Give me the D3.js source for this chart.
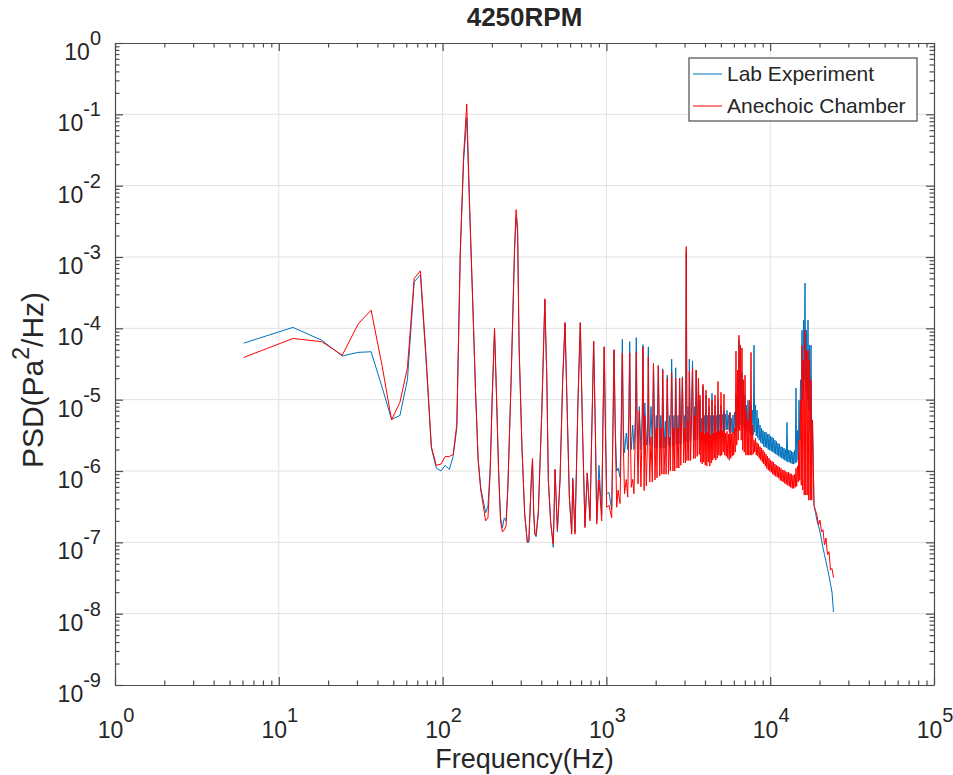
<!DOCTYPE html>
<html>
<head>
<meta charset="utf-8">
<script src="https://cdn.jsdelivr.net/npm/d3@7"></script>
<style>
  body { margin: 0; background: #fff; }
  text { font-family: "Liberation Sans", Arial, Helvetica, sans-serif; fill: #262626; }
</style>
</head>
<body>
<div id="chart"></div>
<script>
// ---- data (frequency in Hz, PSD in Pa^2/Hz) ----
// low bins, 6.1 Hz spacing
const freqLow = [6.1, 12.2, 18.3, 24.4, 30.5, 36.6, 42.7, 48.8, 54.9, 61.0,
  67.1, 73.2, 79.3, 85.4, 91.5, 97.7, 103.8, 109.9, 116.0, 122.1,
  128.2, 134.3, 140.4, 146.5, 152.6, 158.7, 164.8, 170.9, 177.0, 183.1,
  189.2, 195.3, 201.4, 207.5, 213.6, 219.7, 225.8, 231.9, 238.0];
const labLow = [6.2e-5, 1.03e-4, 6.8e-5, 4.1e-5, 4.6e-5, 4.7e-5, 1.5e-5, 5.3e-6, 6.0e-6, 1.9e-5,
  4.5e-4, 5.6e-4, 3.5e-5, 2.1e-6, 1.1e-6, 1.0e-6, 1.2e-6, 1.05e-6, 1.6e-6, 4.0e-6,
  1.1e-3, 2.2e-2, 9.0e-2, 4.0e-3, 2.4e-4, 1.4e-5, 1.5e-6, 5.8e-7, 3.9e-7, 2.6e-7,
  3.2e-7, 1.1e-6, 1.3e-5, 9.5e-5, 1.0e-5, 1.0e-6, 2.2e-7, 1.6e-7, 2.2e-7];
const anecLow = [3.9e-5, 7.2e-5, 6.5e-5, 4.2e-5, 1.15e-4, 1.8e-4, 3.0e-5, 5.2e-6, 9.2e-6, 2.8e-5,
  5.0e-4, 6.4e-4, 4.0e-5, 2.2e-6, 1.2e-6, 1.25e-6, 1.6e-6, 1.6e-6, 1.7e-6, 4.5e-6,
  1.2e-3, 2.6e-2, 1.4e-1, 4.5e-3, 2.6e-4, 1.4e-5, 1.4e-6, 5.4e-7, 3.3e-7, 2.0e-7,
  2.2e-7, 1.0e-6, 1.3e-5, 1.0e-4, 1.1e-5, 1.0e-6, 2.0e-7, 1.4e-7, 1.5e-7];

// harmonic comb, peaks and troughs
const freqMid = [244, 250, 262, 275, 281, 287, 293, 305, 317, 329,
  336, 348, 354, 360, 366, 372, 384, 403, 421, 433,
  442, 457, 474, 486, 502, 521, 541, 559, 577, 594,
  614, 623, 643, 671, 693, 715, 740, 764, 794, 817,
  836, 858, 873, 901, 936, 953, 970, 987, 1004, 1037,
  1077, 1098, 1113, 1134, 1156, 1178, 1211, 1232, 1251, 1270,
  1290, 1323, 1350, 1370, 1388, 1402, 1419, 1448, 1473, 1505,
  1522, 1540, 1560, 1588, 1625, 1655, 1672, 1688, 1700, 1715,
  1753, 1790, 1803, 1818, 1839, 1872, 1906, 1938, 1980, 2017,
  2037, 2075, 2116, 2150, 2180, 2207, 2247, 2290, 2315, 2353,
  2393, 2433, 2460, 2503, 2549, 2585, 2614, 2648, 2698, 2738,
  2770, 2798, 2846, 2879, 2910, 2963, 3006, 3041, 3073, 3104,
  3149, 3185, 3207, 3266, 3312, 3356, 3403, 3451, 3484, 3533,
  3582, 3649, 3690];
const labMid = [2.0e-7, 5.5e-7, 1.9e-5, 1.2e-3, 3.6e-3, 2.2e-3, 5.5e-5, 2.2e-6, 2.5e-7, 1.0e-7,
  1.0e-7, 7.5e-7, 1.4e-6, 2.5e-7, 1.3e-7, 1.2e-7, 2.5e-7, 6.4e-6, 2.5e-4, 1.9e-5,
  7.5e-7, 1.9e-7, 8.5e-8, 1.05e-6, 1.4e-7, 7.5e-7, 1.9e-5, 1.2e-4, 6.4e-6, 4.3e-7,
  1.4e-7, 8.0e-7, 1.4e-7, 1.0e-5, 1.2e-4, 3.7e-6, 1.7e-7, 9.4e-7, 2.2e-7, 5.0e-6,
  6.6e-5, 2.8e-6, 2.0e-7, 1.2e-6, 2.4e-7, 5.0e-6, 5.5e-5, 3.7e-6, 4.8e-7, 5.0e-7,
  2.9e-7, 5.0e-6, 5.0e-5, 3.7e-6, 1.0e-6, 1.1e-6, 8.2e-7, 5.0e-6, 7.0e-5, 3.7e-6,
  1.8e-6, 3.4e-6, 2.0e-6, 6.0e-6, 6.5e-5, 5.0e-6, 2.0e-6, 4.4e-6, 2.0e-6, 6.0e-6,
  7.4e-5, 5.0e-6, 2.0e-6, 8.0e-6, 2.0e-6, 6.0e-6, 5.9e-5, 5.0e-6, 2.2e-6, 9.0e-6,
  2.3e-6, 5.0e-6, 5.5e-5, 5.0e-6, 2.3e-6, 8.0e-6, 2.2e-6, 3.2e-5, 2.1e-6, 6.0e-6,
  2.1e-6, 3.0e-5, 2.1e-6, 6.0e-6, 2.1e-6, 2.7e-5, 2.1e-6, 5.0e-6, 2.2e-6, 2.2e-5,
  2.3e-6, 6.0e-6, 2.2e-6, 3.7e-5, 2.3e-6, 6.0e-6, 2.3e-6, 2.8e-5, 2.4e-6, 6.0e-6,
  2.4e-6, 2.0e-5, 2.4e-6, 7.0e-6, 2.1e-5, 2.5e-6, 6.0e-6, 2.6e-6, 1.2e-3, 2.6e-6,
  8.0e-6, 2.6e-6, 3.7e-5, 2.6e-6, 8.0e-6, 3.5e-5, 2.7e-6, 8.0e-6, 2.7e-6, 2.6e-5,
  2.7e-6, 2.0e-5, 2.8e-6];
const anecMid = [1.7e-7, 5.5e-7, 1.9e-5, 1.4e-3, 4.6e-3, 2.6e-3, 6.0e-5, 2.2e-6, 2.5e-7, 1.0e-7,
  1.05e-7, 7.5e-7, 1.5e-6, 2.6e-7, 1.3e-7, 1.25e-7, 2.7e-7, 6.4e-6, 2.6e-4, 1.9e-5,
  7.5e-7, 1.9e-7, 9.5e-8, 1.05e-6, 1.5e-7, 7.5e-7, 1.9e-5, 1.2e-4, 6.4e-6, 4.3e-7,
  1.3e-7, 7.6e-7, 1.3e-7, 1.0e-5, 1.2e-4, 3.7e-6, 1.6e-7, 9.4e-7, 2.0e-7, 5.0e-6,
  6.6e-5, 2.8e-6, 1.8e-7, 7.5e-7, 2.0e-7, 5.0e-6, 5.5e-5, 3.7e-6, 3.1e-7, 3.3e-7,
  2.2e-7, 5.0e-6, 5.0e-5, 3.0e-6, 3.1e-7, 5.4e-7, 3.5e-7, 3.0e-6, 4.5e-5, 2.2e-6,
  4.8e-7, 7.6e-7, 4.3e-7, 4.0e-6, 4.5e-5, 3.0e-6, 5.9e-7, 7.6e-7, 4.8e-7, 4.0e-6,
  4.7e-5, 3.0e-6, 6.6e-7, 7.0e-6, 6.0e-7, 5.0e-6, 5.5e-5, 4.0e-6, 5.3e-7, 6.0e-6,
  6.2e-7, 4.0e-6, 4.0e-5, 3.5e-6, 7.0e-7, 3.0e-6, 7.0e-7, 3.2e-5, 7.5e-7, 4.0e-6,
  8.0e-7, 3.0e-5, 8.5e-7, 4.0e-6, 9.0e-7, 2.6e-5, 9.0e-7, 3.0e-6, 9.0e-7, 2.0e-5,
  9.0e-7, 3.0e-6, 1.0e-6, 2.4e-5, 1.0e-6, 4.0e-6, 1.0e-6, 2.0e-5, 1.1e-6, 4.0e-6,
  1.1e-6, 2.0e-5, 1.2e-6, 5.0e-6, 2.0e-5, 1.3e-6, 4.0e-6, 1.3e-6, 1.4e-3, 1.4e-6,
  5.0e-6, 1.4e-6, 2.5e-5, 1.4e-6, 6.0e-6, 2.8e-5, 1.5e-6, 6.0e-6, 1.5e-6, 2.6e-5,
  1.6e-6, 2.0e-5, 1.7e-6];

// dense broadband part, alternating upper / lower edge of the band
const freqBand = [3728, 3768, 3807, 3847, 3888, 3929, 3971, 4013, 4057, 4100,
  4143, 4187, 4231, 4276, 4321, 4367, 4413, 4460, 4506, 4554,
  4603, 4652, 4701, 4751, 4800, 4851, 4903, 4955, 5007, 5060,
  5114, 5168, 5222, 5277, 5334, 5391, 5448, 5506, 5563, 5622,
  5682, 5742, 5803, 5865, 5927, 5990, 6053, 6117, 6182, 6248,
  6314, 6381, 6448, 6516, 6586, 6656, 6726, 6797, 6870, 6943,
  7017, 7091, 7166, 7242, 7319, 7397, 7474, 7553, 7634, 7715,
  7797, 7880, 7963, 8047, 8133, 8219, 8306, 8394, 8483, 8573,
  8664, 8756, 8849, 8943, 9037, 9133, 9230, 9328, 9428, 9528,
  9627, 9729, 9833, 9937, 10042, 10148, 10256, 10365, 10474, 10585,
  10698, 10811, 10926, 11042, 11158, 11276, 11397, 11518, 11640, 11763,
  11888, 12014, 12141, 12270, 12401, 12532, 12666, 12800, 12934, 13071,
  13211, 13351, 13490, 13633, 13778, 13924, 14073, 14222, 14371, 14523,
  14678, 14834, 14989, 15148, 15311, 15473, 15636, 15802, 15970, 16139,
  16312, 16485, 16658, 16835, 17014, 17194, 17376, 17560, 17747, 17935,
  18123];
const labBand = [9.8e-6, 2.7e-6, 5.5e-6, 2.7e-6, 1.55e-5, 2.6e-6, 6.0e-6, 2.5e-6, 1.16e-5, 2.7e-6,
  6.0e-6, 2.9e-6, 8.0e-6, 2.7e-6, 6.0e-6, 2.9e-6, 1.23e-5, 3.2e-6, 6.0e-6, 3.2e-6,
  8.4e-6, 3.1e-6, 6.0e-6, 3.3e-6, 9.8e-6, 3.4e-6, 6.2e-6, 3.3e-6, 8.4e-6, 3.5e-6,
  6.2e-6, 3.6e-6, 7.1e-6, 3.7e-6, 6.3e-6, 3.8e-6, 7.1e-6, 3.8e-6, 6.1e-6, 3.6e-6,
  6.7e-6, 3.5e-6, 5.5e-6, 3.3e-6, 6.1e-6, 3.4e-6, 6.7e-6, 3.5e-6, 1.16e-5, 3.6e-6,
  1.9e-5, 4.0e-6, 6.8e-5, 4.4e-6, 3.6e-5, 4.4e-6, 2.4e-5, 4.4e-6, 1.36e-5, 4.0e-6,
  1.16e-5, 4.0e-6, 8.4e-6, 3.7e-6, 9.8e-6, 3.5e-6, 8.4e-6, 3.3e-6, 8.4e-6, 3.3e-6,
  7.1e-6, 3.2e-6, 5.8e-5, 3.5e-6, 8.4e-6, 3.1e-6, 7.1e-6, 2.9e-6, 5.5e-6, 2.7e-6,
  4.4e-6, 2.5e-6, 4.0e-6, 2.4e-6, 3.7e-6, 2.2e-6, 3.5e-6, 2.16e-6, 3.5e-6, 2.1e-6,
  3.3e-6, 2.0e-6, 3.3e-6, 1.96e-6, 3.1e-6, 1.9e-6, 3.0e-6, 1.84e-6, 2.9e-6, 1.78e-6,
  2.7e-6, 1.72e-6, 2.6e-6, 1.67e-6, 2.45e-6, 1.61e-6, 2.4e-6, 1.56e-6, 2.2e-6, 1.51e-6,
  2.16e-6, 1.46e-6, 2.1e-6, 1.42e-6, 2.0e-6, 1.37e-6, 4.8e-6, 1.33e-6, 1.96e-6, 1.33e-6,
  1.96e-6, 1.29e-6, 1.9e-6, 1.25e-6, 1.84e-6, 1.25e-6, 1.96e-6, 1.29e-6, 1.45e-5, 1.33e-6,
  3.7e-6, 1.42e-6, 9.8e-6, 2.7e-6, 1.9e-5, 5.2e-6, 9.4e-5, 9.8e-6, 1.3e-4, 1.9e-5,
  4.3e-4, 1.36e-5, 9.4e-5, 9.8e-6, 1.3e-4, 7.1e-6, 5.8e-5, 3.7e-6, 5.8e-5, 1.96e-6,
  5.2e-6];
const anecBand = [1.16e-5, 1.33e-6, 3.5e-6, 1.25e-6, 1.65e-5, 1.33e-6, 3.3e-6, 1.21e-6, 1.36e-5, 1.17e-6,
  3.5e-6, 1.33e-6, 1.05e-5, 1.17e-6, 3.2e-6, 1.29e-6, 9.8e-6, 1.42e-6, 3.4e-6, 1.51e-6,
  1.16e-5, 1.42e-6, 3.5e-6, 1.51e-6, 1.8e-5, 1.67e-6, 3.6e-6, 1.61e-6, 1.27e-5, 1.67e-6,
  3.6e-6, 1.84e-6, 1.2e-5, 1.67e-6, 3.4e-6, 1.61e-6, 3.6e-6, 1.51e-6, 3.3e-6, 1.42e-6,
  6.5e-6, 1.51e-6, 3.3e-6, 1.61e-6, 3.5e-6, 1.67e-6, 4.0e-6, 1.84e-6, 4.8e-5, 2.3e-6,
  2.6e-5, 2.7e-6, 8.0e-5, 3.7e-6, 5.8e-5, 2.7e-6, 5.3e-5, 1.96e-6, 1.9e-5, 1.84e-6,
  2.2e-5, 1.67e-6, 7.1e-6, 1.67e-6, 5.2e-6, 1.67e-6, 9.8e-6, 1.67e-6, 4.6e-5, 1.67e-6,
  4.4e-6, 1.72e-6, 2.7e-6, 1.84e-6, 2.9e-6, 1.67e-6, 2.5e-6, 1.61e-6, 2.4e-6, 1.51e-6,
  2.2e-6, 1.42e-6, 2.1e-6, 1.33e-6, 1.96e-6, 1.25e-6, 1.84e-6, 1.17e-6, 1.72e-6, 1.09e-6,
  1.61e-6, 1.03e-6, 1.51e-6, 9.9e-7, 1.42e-6, 9.6e-7, 1.37e-6, 9.0e-7, 1.33e-6, 8.7e-7,
  1.25e-6, 8.4e-7, 1.21e-6, 8.2e-7, 1.17e-6, 7.9e-7, 1.13e-6, 7.4e-7, 1.09e-6, 7.2e-7,
  1.03e-6, 7.0e-7, 1.03e-6, 6.7e-7, 9.9e-7, 6.5e-7, 9.6e-7, 6.3e-7, 9.6e-7, 6.1e-7,
  9.3e-7, 5.9e-7, 9.0e-7, 5.7e-7, 8.7e-7, 5.7e-7, 9.0e-7, 5.9e-7, 1.09e-6, 6.1e-7,
  1.17e-6, 7.0e-7, 2.7e-6, 7.4e-7, 9.8e-6, 6.3e-7, 5.8e-5, 5.4e-7, 3.6e-5, 4.6e-7,
  9.4e-5, 4.6e-7, 4.9e-5, 4.6e-7, 4.9e-5, 3.9e-7, 3.6e-5, 3.9e-7, 1.9e-5, 3.9e-7,
  5.2e-6];

// roll-off above the 16 kHz peak
const freqTail = [18510, 18906, 19307, 19720, 20137, 20568, 21004, 21453, 21912, 22377, 22856, 23340, 23839, 24346];
const labTail = [3.3e-7, 2.6e-7, 2.0e-7, 1.7e-7, 1.4e-7, 1.08e-7, 8.4e-8, 6.7e-8, 5.4e-8, 4.3e-8, 3.4e-8, 2.6e-8, 2.0e-8, 1.05e-8];
const anecTail = [3.3e-7, 2.8e-7, 2.4e-7, 1.75e-7, 2.05e-7, 1.4e-7, 1.5e-7, 9.2e-8, 1.15e-7, 6.7e-8, 7.4e-8, 4.1e-8, 4.3e-8, 3.2e-8];

const seriesNames = ["Lab Experiment", "Anechoic Chamber"];
const seriesColors = ["#0072BD", "#FF0000"];
const xTickExp = [0, 1, 2, 3, 4, 5];
const yTickExp = [0, -1, -2, -3, -4, -5, -6, -7, -8, -9];

// ---- layout ----
const WIDTH = 953, HEIGHT = 775;
const MARGIN = { left: 115, top: 43, right: 19, bottom: 90 };
const INNER_WIDTH = WIDTH - MARGIN.left - MARGIN.right;
const INNER_HEIGHT = 642;
const AXIS_COLOR = "#4d4d4d";
const GRID_COLOR = "#e1e1e1";

const svg = d3.select("#chart")
  .append("svg")
  .attr("width", WIDTH)
  .attr("height", HEIGHT);

const g = svg.append("g")
  .attr("transform", `translate(${MARGIN.left}, ${MARGIN.top})`);

const x = d3.scaleLog().domain([1, 1e5]).range([0, INNER_WIDTH]);
const y = d3.scaleLog().domain([1e-9, 1]).range([INNER_HEIGHT, 0]);

const xMajor = xTickExp.map(e => Math.pow(10, e));
const yMajor = yTickExp.map(e => Math.pow(10, e));
const xMinor = [], yMinor = [];
xTickExp.slice(0, -1).forEach(e => { for (let m = 2; m < 10; m++) xMinor.push(m * Math.pow(10, e)); });
yTickExp.slice(0, -1).forEach(e => { for (let m = 2; m < 10; m++) yMinor.push(m * Math.pow(10, e - 1)); });

// Grid
g.append("g").selectAll("line")
  .data(xMajor.slice(1, -1))
  .join("line")
  .attr("x1", d => x(d)).attr("x2", d => x(d))
  .attr("y1", 0).attr("y2", INNER_HEIGHT)
  .attr("stroke", GRID_COLOR).attr("stroke-width", 1);

g.append("g").selectAll("line")
  .data(yMajor.slice(1, -1))
  .join("line")
  .attr("y1", d => y(d)).attr("y2", d => y(d))
  .attr("x1", 0).attr("x2", INNER_WIDTH)
  .attr("stroke", GRID_COLOR).attr("stroke-width", 1);

// Lines
g.append("clipPath").attr("id", "plot-clip")
  .append("rect").attr("width", INNER_WIDTH).attr("height", INNER_HEIGHT);

const freq = freqLow.concat(freqMid, freqBand, freqTail);
const lab = labLow.concat(labMid, labBand, labTail);
const anec = anecLow.concat(anecMid, anecBand, anecTail);
const series = [lab, anec].map(vals => freq.map((f, i) => [f, vals[i]]));

const line = d3.line()
  .x(d => x(d[0]))
  .y(d => y(d[1]));

g.append("g")
  .attr("clip-path", "url(#plot-clip)")
  .selectAll("path")
  .data(series)
  .join("path")
  .attr("d", line)
  .attr("fill", "none")
  .attr("stroke", (d, i) => seriesColors[i])
  .attr("stroke-width", 1)
  .attr("stroke-linejoin", "round");

// Axes (ticks point inward on all four sides)
function styleAxis(sel) {
  sel.selectAll("path, line").attr("stroke", AXIS_COLOR).attr("stroke-width", 1.2);
  sel.selectAll("text").remove();
}
const axes = [
  [d3.axisBottom(x), `translate(0, ${INNER_HEIGHT})`, xMajor, xMinor],
  [d3.axisTop(x), "translate(0, 0)", xMajor, xMinor],
  [d3.axisLeft(y), "translate(0, 0)", yMajor, yMinor],
  [d3.axisRight(y), `translate(${INNER_WIDTH}, 0)`, yMajor, yMinor]
];
axes.forEach(([ax, tr, major, minor]) => {
  g.append("g").attr("transform", tr)
    .call(ax.tickValues(major).tickSizeInner(-8).tickSizeOuter(0).tickFormat(""))
    .call(styleAxis);
  g.append("g").attr("transform", tr)
    .call(ax.tickValues(minor).tickSizeInner(-4.5).tickSizeOuter(0).tickFormat(""))
    .call(sel => { styleAxis(sel); sel.select(".domain").remove(); });
});

// Tick labels, 10^n style
const xLab = g.append("g").selectAll("text")
  .data(xTickExp)
  .join("text")
  .attr("x", d => x(Math.pow(10, d)) + 1)
  .attr("y", INNER_HEIGHT + 53)
  .attr("text-anchor", "middle")
  .style("font-size", "23px");
xLab.append("tspan").text("10");
xLab.append("tspan").attr("dy", -16).style("font-size", "20px").text(d => d);

const yLab = g.append("g").selectAll("text")
  .data(yTickExp)
  .join("text")
  .attr("x", -14)
  .attr("y", d => y(Math.pow(10, d)) + 17)
  .attr("text-anchor", "end")
  .style("font-size", "23px");
yLab.append("tspan").text("10");
yLab.append("tspan").attr("dy", -15).style("font-size", "20px").text(d => d);

// Title and axis labels
svg.append("text")
  .attr("x", MARGIN.left + INNER_WIDTH / 2)
  .attr("y", 26)
  .attr("text-anchor", "middle")
  .style("font-size", "26px")
  .style("font-weight", "bold")
  .text("4250RPM");

svg.append("text")
  .attr("x", MARGIN.left + INNER_WIDTH / 2)
  .attr("y", 768)
  .attr("text-anchor", "middle")
  .style("font-size", "27px")
  .text("Frequency(Hz)");

const yTitle = svg.append("text")
  .attr("transform", "translate(43, 380) rotate(-90)")
  .attr("text-anchor", "middle")
  .style("font-size", "30px");
yTitle.append("tspan").text("PSD(Pa");
yTitle.append("tspan").attr("dy", -14).style("font-size", "23px").text("2");
yTitle.append("tspan").attr("dy", 14).text("/Hz)");

// Legend
const legend = svg.append("g").attr("transform", "translate(689, 58)");
legend.append("rect")
  .attr("width", 228).attr("height", 63)
  .attr("fill", "#fff").attr("stroke", AXIS_COLOR).attr("stroke-width", 1.2);
const item = legend.selectAll("g")
  .data(seriesNames)
  .join("g")
  .attr("transform", (d, i) => `translate(0, ${16 + i * 32})`);
item.append("line")
  .attr("x1", 4).attr("x2", 33)
  .attr("stroke", (d, i) => seriesColors[i])
  .attr("stroke-width", 1);
item.append("text")
  .attr("x", 38).attr("y", 7)
  .style("font-size", "21px")
  .text(d => d);
</script>
</body>
</html>
